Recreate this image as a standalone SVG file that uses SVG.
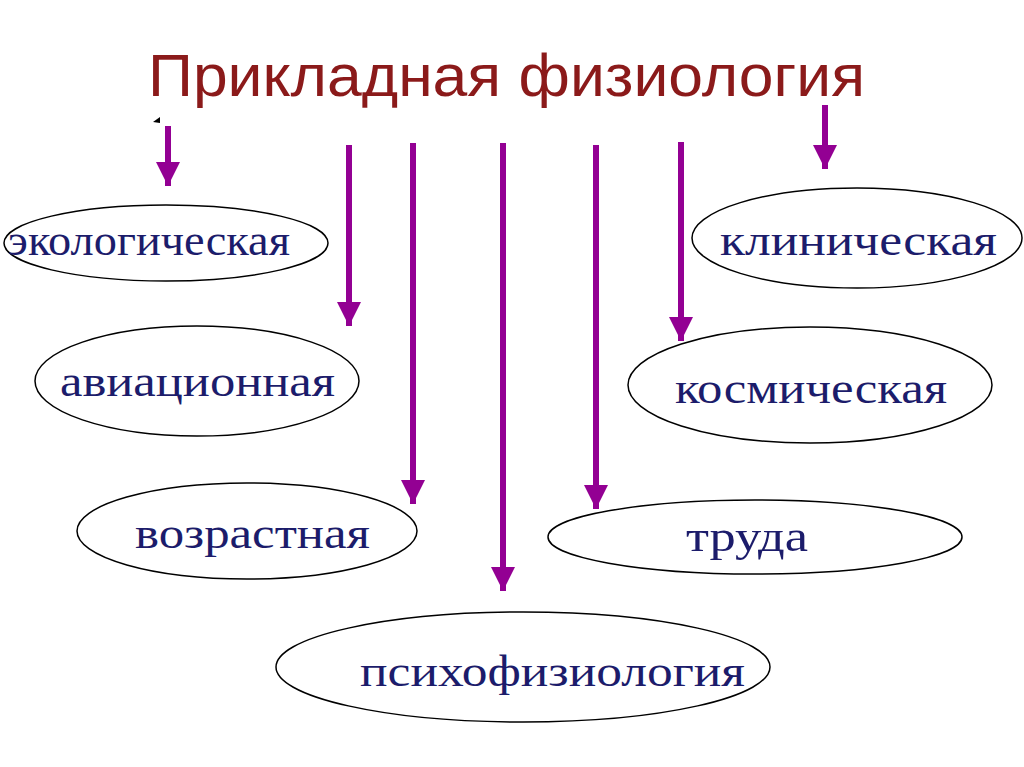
<svg xmlns="http://www.w3.org/2000/svg" width="1024" height="767" viewBox="0 0 1024 767">
<style>
.n ellipse{fill:#fff;stroke:#000;stroke-width:1.5}
.n text{font-family:"Liberation Serif",serif;font-size:44px;fill:#1c1c6b}
.c line{stroke:#930093;stroke-width:6}
</style>
<defs><marker id="a" markerUnits="userSpaceOnUse" markerWidth="26" markerHeight="26" refX="24" refY="12" orient="auto"><path d="M0,0 L24,12 L0,24 Z" fill="#930093"/></marker></defs>
<rect width="1024" height="767" fill="#fff"/>
<text x="148" y="96" textLength="717" lengthAdjust="spacingAndGlyphs" font-family="Liberation Sans,sans-serif" font-size="60" fill="#8b1a1a">Прикладная физиология</text>
<path d="M153,122 L160,117 L160,123 Z" fill="#000"/>
<g class="c">
<line x1="168" y1="126" x2="168" y2="186" marker-end="url(#a)"/>
<line x1="349" y1="145" x2="349" y2="326" marker-end="url(#a)"/>
<line x1="413" y1="143" x2="413" y2="504" marker-end="url(#a)"/>
<line x1="503" y1="143" x2="503" y2="591" marker-end="url(#a)"/>
<line x1="596" y1="145" x2="596" y2="509" marker-end="url(#a)"/>
<line x1="681" y1="142" x2="681" y2="341" marker-end="url(#a)"/>
<line x1="825" y1="105" x2="825" y2="169" marker-end="url(#a)"/>
</g>
<g class="n" id="n1"><ellipse cx="166" cy="243" rx="162" ry="38"/><text x="8" y="255" textLength="282" lengthAdjust="spacingAndGlyphs" font-size="40">экологическая</text></g>
<g class="n" id="n2"><ellipse cx="197" cy="381" rx="162" ry="55"/><text x="60" y="396" textLength="275" lengthAdjust="spacingAndGlyphs">авиационная</text></g>
<g class="n" id="n3"><ellipse cx="247" cy="531" rx="170" ry="48"/><text x="135" y="548" textLength="235" lengthAdjust="spacingAndGlyphs">возрастная</text></g>
<g class="n" id="n4"><ellipse cx="523" cy="667" rx="247" ry="55"/><text x="360" y="686" textLength="385" lengthAdjust="spacingAndGlyphs">психофизиология</text></g>
<g class="n" id="n5"><ellipse cx="857" cy="238" rx="165" ry="50"/><text x="720" y="255" textLength="277" lengthAdjust="spacingAndGlyphs">клиническая</text></g>
<g class="n" id="n6"><ellipse cx="810" cy="385" rx="182" ry="58"/><text x="675" y="403" textLength="272" lengthAdjust="spacingAndGlyphs">космическая</text></g>
<g class="n" id="n7"><ellipse cx="755" cy="537" rx="207" ry="37"/><text x="686" y="551" textLength="122" lengthAdjust="spacingAndGlyphs">труда</text></g>
</svg>
